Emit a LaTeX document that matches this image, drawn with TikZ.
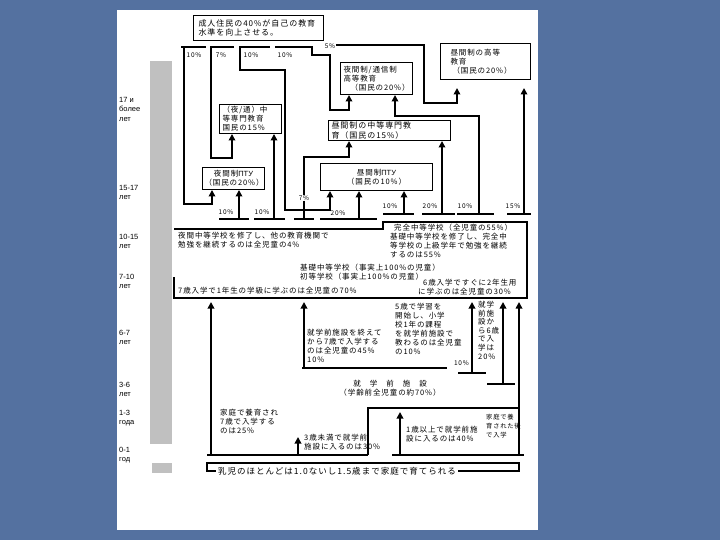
\documentclass[tikz,border=0pt]{standalone}
\usepackage{fontspec}
\setmainfont{Liberation Sans}
\newfontfamily\jfam[LetterSpace=12]{Noto Sans CJK JP}
\newfontfamily\rufam{Liberation Sans}
\usetikzlibrary{arrows.meta,calc}
\definecolor{slide}{RGB}{84,113,160}
\definecolor{bargray}{RGB}{192,192,192}
\newcommand\jf{\jfam\fontsize{7.5}{9}\selectfont}
\newcommand\jfn{\jfam\fontsize{7.5}{8.6}\selectfont}
\newcommand\jfb{\jfam\fontsize{8}{9.5}\selectfont}
\newcommand\jfs{\jfam\fontsize{8.5}{9}\selectfont}
\newcommand\jfh{\jfam\fontsize{6.3}{9}\selectfont}
\newcommand\pf{\jfam\fontsize{6.5}{7}\selectfont}
\newcommand\af{\rufam\fontsize{7.5}{9.5}\selectfont}
\tikzset{
  box/.style={draw, line width=1pt, anchor=north west, align=left, inner ysep=1pt, font=\jf},
  flow/.style={line width=2.1pt, line join=miter},
  arr/.style={flow, -{Triangle[length=6.5pt,width=6.5pt]}},
  tbar/.style={line width=2.8pt},
  pct/.style={font=\pf, inner sep=0pt},
  txt/.style={font=\jf, align=left, inner sep=0pt, anchor=north west},
  age/.style={font=\af, align=left, inner sep=0pt, anchor=north west},
  thinl/.style={line width=1.1pt},
}
\begin{document}
\begin{tikzpicture}[x=1pt,y=-1pt]
\useasboundingbox (0,0) rectangle (720,540);
\fill[slide] (0,0) rectangle (720,540);
\fill[white] (117,10) rectangle (538,530);
\fill[bargray] (150,61) rectangle (172,444);
\fill[bargray] (152,463) rectangle (172,473);

% age labels
\node[age] (ag1) at (119,97) {17 и\\более\\лет};
\node[age] (ag2) at (119,185) {15-17\\лет};
\node[age] (ag3) at (119,234) {10-15\\лет};
\node[age] (ag4) at (119,274) {7-10\\лет};
\node[age] (ag5) at (119,330) {6-7\\лет};
\node[age] (ag6) at (119,382) {3-6\\лет};
\node[age] (ag7) at (119,410) {1-3\\года};
\node[age] (ag8) at (119,447) {0-1\\год};

% boxes
\node[box, font=\jfb, text width=120pt, inner xsep=5pt, minimum height=25pt] (adult) at (193,15) {成人住民の40\%が自己の教育\\水準を向上させる。};
\node[box, text width=56pt, inner xsep=3pt, minimum height=29pt] (tcN) at (219,104) {（夜/通）中\\等専門教育\\国民の15\%};
\node[box, align=center, text width=58pt, inner xsep=2pt, minimum height=22pt] (ptuN) at (202,167) {夜間制{\rufam ПТУ}\\（国民の20\%）};
\node[box, text width=66pt, inner xsep=3pt, minimum height=32pt] (hvN) at (340,62) {夜間制/通信制\\高等教育\\\hspace*{7pt}（国民の20\%）};
\node[box, text width=70pt, inner xsep=10pt, minimum height=36pt] (hdD) at (440,43) {昼間制の高等\\教育\\\hspace*{2pt}（国民の20\%）};
\node[box, font=\jfb, text width=116pt, inner xsep=3pt, inner ysep=0.3pt, minimum height=20pt] (sptD) at (328,120) {昼間制の中等専門教\\育（国民の15\%）};
\node[box, align=center, text width=108pt, inner xsep=2pt, minimum height=27pt] (ptuD) at (320,163) {昼間制{\rufam ПТУ}\\（国民の10\%）};

% top bars
\coordinate (bA1) at (181,47); \coordinate (bA2) at (206,47);
\coordinate (bB1) at (210,47); \coordinate (bB2) at (234,47);
\coordinate (bC1) at (239,47); \coordinate (bC2) at (270,47);
\coordinate (bD1) at (275,47); \coordinate (bD2) at (313,47);
\draw[tbar] (bA1) -- (bA2) (bB1) -- (bB2) (bC1) -- (bC2) (bD1) -- (bD2);
\node[pct] (pA) at (194,55) {10\%};
\node[pct] (pB) at (221,55) {7\%};
\node[pct] (pC) at (251,55) {10\%};
\node[pct] (pD) at (285,55) {10\%};
\node[pct] (pE) at (330,46) {5\%};

% adult flows
\coordinate (a1) at (184,47); \coordinate (a2) at (184,204); \coordinate (a3) at (212,204);
\draw[arr] (a1) -- (a2) -- (a3) -- (a3 |- ptuN.south);
\coordinate (b1) at (211,47); \coordinate (b2) at (211,158); \coordinate (b3) at (232,158);
\draw[arr] (b1) -- (b2) -- (b3) -- (b3 |- tcN.south);
\coordinate (c1) at (240,47); \coordinate (c2) at (240,70); \coordinate (c3) at (285,70); \coordinate (c4) at (285,210); \coordinate (c5) at (330,210);
\draw[arr] (c1) -- (c2) -- (c3) -- (c4) -- (c5) -- (c5 |- ptuD.south);
\coordinate (d1) at (312,47); \coordinate (d2) at (312,55); \coordinate (d3) at (330,55); \coordinate (d4) at (330,110); \coordinate (d5) at (349,110);
\draw[arr] (d1) -- (d2) -- (d3) -- (d4) -- (d5) -- (d5 |- hvN.south);
\coordinate (e1) at (336,45); \coordinate (e2) at (424,45); \coordinate (e3) at (424,103); \coordinate (e4) at (457,103);
\draw[arr, shorten >=8pt] (e1) -- (e2) -- (e3) -- (e4) -- (e4 |- hdD.south);

% school T-bars
\coordinate (t1a) at (219,219); \coordinate (t1b) at (249,219); \coordinate (t1v) at (239,219);
\coordinate (t2a) at (254,219); \coordinate (t2b) at (285,219); \coordinate (t2v) at (274,219);
\coordinate (t3a) at (294,219); \coordinate (t3b) at (314,219); \coordinate (t3v) at (304,219);
\coordinate (t4a) at (320,219); \coordinate (t4b) at (377,219); \coordinate (t4v) at (359,219);
\coordinate (t5a) at (383,214); \coordinate (t5b) at (414,214); \coordinate (t5v) at (404,214);
\coordinate (t6a) at (422,214); \coordinate (t6b) at (455,214); \coordinate (t6v) at (442,214);
\coordinate (t7a) at (457,214); \coordinate (t7b) at (494,214); \coordinate (t7v) at (479,214);
\coordinate (t8a) at (507,214); \coordinate (t8b) at (531,214); \coordinate (t8v) at (524,214);
\draw[tbar] (t1a) -- (t1b) (t2a) -- (t2b) (t3a) -- (t3b) (t4a) -- (t4b)
            (t5a) -- (t5b) (t6a) -- (t6b) (t7a) -- (t7b) (t8a) -- (t8b);
\draw[arr] (t1v) -- (t1v |- ptuN.south);
\draw[arr] (t2v) -- (t2v |- tcN.south);
\coordinate (t3c) at (304,157); \coordinate (t3d) at (349,157);
\draw[arr] (t3v) -- (t3c) -- (t3d) -- (t3d |- sptD.south);
\draw[arr] (t4v) -- (t4v |- ptuD.south);
\draw[arr] (t5v) -- (t5v |- ptuD.south);
\draw[arr] (t6v) -- (t6v |- sptD.south);
\coordinate (t7c) at (479,116); \coordinate (t7d) at (395,116);
\draw[arr] (t7v) -- (t7c) -- (t7d) -- (t7d |- hvN.south);
\draw[arr, shorten >=8pt] (t8v) -- (t8v |- hdD.south);
\node[pct] (p1) at (226,212) {10\%};
\node[pct] (p2) at (262,212) {10\%};
\node[pct, fill=white, inner sep=1pt] (p3) at (304,198) {7\%};
\node[pct] (p4) at (338,213) {20\%};
\node[pct] (p5) at (390,206) {10\%};
\node[pct] (p6) at (430,206) {20\%};
\node[pct] (p7) at (465,206) {10\%};
\node[pct] (p8) at (513,206) {15\%};

% school block
\coordinate (schB) at (0,298);
\draw[thinl] (174,277) -- (174,298) -- (527,298) -- (527,222) -- (383,222) -- (383,229) -- (174,229);
\node[txt] (s1) at (178,232) {夜間中等学校を修了し、他の教育機関で\\勉強を継続するのは全児童の4\%};
\node[txt] (s2) at (390,224) {\hspace*{4pt}完全中等学校（全児童の55\%）\\基礎中等学校を修了し、完全中\\等学校の上級学年で勉強を継続\\するのは55\%};
\node[txt] (s3) at (300,264) {基礎中等学校（事実上100\%の児童）\\初等学校（事実上100\%の児童）};
\node[txt] (s4) at (418,279) {\hspace*{5pt}6歳入学ですぐに2年生用\\に学ぶのは全児童の30\%};
\node[txt, anchor=west] (s5) at (178,291) {7歳入学で1年生の学級に学ぶのは全児童の70\%};

% preschool and lower flows
\coordinate (g1) at (207,455); \coordinate (g2) at (368,455);
\coordinate (g3) at (392,455); \coordinate (g4) at (524,455);
\draw[tbar] (g1) -- (g2) (g3) -- (g4);
\coordinate (u1) at (211,455);
\draw[arr, shorten >=4pt] (u1) -- (u1 |- schB);
\coordinate (k1) at (302,368); \coordinate (k2) at (447,368);
\draw[flow] (k1) -- (k2);
\coordinate (u2) at (304,368);
\draw[arr, shorten >=4pt] (u2) -- (u2 |- schB);
\coordinate (q1a) at (458,373); \coordinate (q1b) at (486,373); \coordinate (u3) at (472,373);
\draw[tbar] (q1a) -- (q1b);
\draw[arr, shorten >=4pt] (u3) -- (u3 |- schB);
\coordinate (q2a) at (487,384); \coordinate (q2b) at (515,384); \coordinate (u4) at (503,384);
\draw[tbar] (q2a) -- (q2b);
\draw[arr, shorten >=4pt] (u4) -- (u4 |- schB);
\coordinate (u5) at (519,455);
\draw[arr, shorten >=4pt] (u5) -- (u5 |- schB);
\coordinate (h1) at (368,408); \coordinate (h2) at (519,408);
\draw[thinl] (g2) -- (h1) -- (h2);
\coordinate (u6) at (400,455); \coordinate (u6e) at (400,412);
\draw[arr] (u6) -- (u6e);
\coordinate (u7) at (298,455); \coordinate (u7e) at (298,437);
\draw[arr] (u7) -- (u7e);

\node[txt] (k1t) at (307,329) {就学前施設を終えて\\から7歳で入学する\\のは全児童の45\%\\10\%};
\node[txt] (k2t) at (395,303) {5歳で学習を\\開始し、小学\\校1年の課程\\を就学前施設で\\教わるのは全児童\\の10\%};
\node[txt, font=\jfn] (k3t) at (478,301) {就学\\前施\\設か\\ら6歳\\で入\\学は\\20\%};
\node[pct, anchor=east] (p9) at (469,363) {10\%};
\node[font=\jf, inner sep=0pt] (kgT) at (390,384) {就\hspace{9pt}学\hspace{9pt}前\hspace{9pt}施\hspace{9pt}設};
\node[font=\jf, inner sep=0pt] (kgP) at (390,393) {（学齢前全児童の約70\%）};
\node[txt] (h1t) at (220,409) {家庭で養育され\\7歳で入学する\\のは25\%};
\node[txt] (h2t) at (304,434) {3歳未満で就学前\\施設に入るのは30\%};
\node[txt] (h3t) at (406,426) {1歳以上で就学前施\\設に入るのは40\%};
\node[txt, font=\jfh] (h4t) at (486,414) {家庭で養\\育された後\\で入学};

% bottom strip
\coordinate (st1) at (207,463); \coordinate (st2) at (519,471);
\draw[thinl] (st1) rectangle (st2);
\node[fill=white, font=\jfs, inner xsep=2pt, inner ysep=0.5pt] (strip) at (337,471) {乳児のほとんどは1.0ないし1.5歳まで家庭で育てられる};
\end{tikzpicture}
\end{document}
